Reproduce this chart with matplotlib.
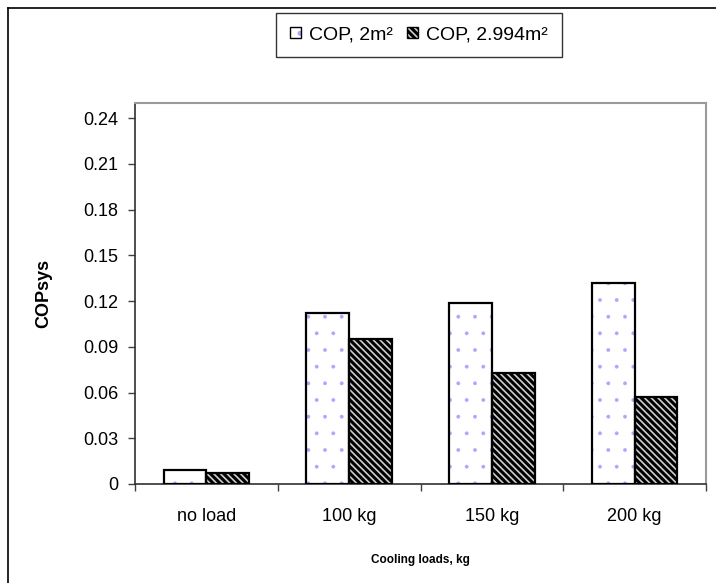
import matplotlib
matplotlib.use("Agg")
import matplotlib.pyplot as plt
from matplotlib.lines import Line2D
from matplotlib.patches import Patch
from matplotlib.legend_handler import HandlerTuple
import numpy as np

plt.rcParams['font.family'] = ['Liberation Sans', 'DejaVu Sans']

categories = ["no load", "100 kg", "150 kg", "200 kg"]
series_names = ["COP, 2m²", "COP, 2.994m²"]
cop_2m2 = [0.009, 0.112, 0.119, 0.132]
cop_2994m2 = [0.007, 0.095, 0.073, 0.057]
yticks = [0, 0.03, 0.06, 0.09, 0.12, 0.15, 0.18, 0.21, 0.24]
ytick_labels = ["0", "0.03", "0.06", "0.09", "0.12", "0.15", "0.18", "0.21", "0.24"]

W, H = 716, 583
fig = plt.figure(figsize=(W / 100, H / 100), dpi=100)
ax = fig.add_axes([135 / W, 1 - 484 / H, (706 - 135) / W, (484 - 103) / H])

x = np.arange(len(categories))
w = 0.3

DOT_C = '#a8a8ff'
STRIPE_C = '#cfcfcf'
STRIPES = '\\\\\\\\\\'

# Series 1: white with light-blue dots
plt.rcParams['hatch.linewidth'] = 0.3
ax.bar(x - w / 2, cop_2m2, w, color='white', edgecolor=DOT_C, hatch='.', linewidth=0, zorder=2)
h1a = Patch(facecolor='white', edgecolor=DOT_C, hatch='.', linewidth=0)
ax.bar(x - w / 2, cop_2m2, w, fill=False, edgecolor='black', linewidth=1.6, zorder=3)

# Series 2: black with light diagonal stripes
plt.rcParams['hatch.linewidth'] = 1.2
ax.bar(x + w / 2, cop_2994m2, w, color='black', linewidth=0, zorder=2)
ax.bar(x + w / 2, cop_2994m2, w, fill=False, edgecolor=STRIPE_C, hatch=STRIPES, linewidth=0, zorder=2.5)
ax.bar(x + w / 2, cop_2994m2, w, fill=False, edgecolor='black', linewidth=1.6, zorder=3)
h2b = Patch(fill=False, edgecolor=STRIPE_C, hatch=STRIPES, linewidth=0)

ax.set_xlim(-0.5, len(categories) - 0.5)
ax.set_ylim(0, 0.25)
ax.set_yticks(yticks)
ax.set_yticklabels(ytick_labels, fontsize=13)
ax.set_xticks(x)
ax.set_xticklabels(categories, fontsize=13)
ax.set_xticks(np.arange(-0.5, len(categories), 1.0), minor=True)
ax.tick_params(axis='x', which='major', length=0, pad=17)
ax.tick_params(axis='x', which='minor', length=5, width=1, direction='out', color='#404040')
ax.tick_params(axis='y', length=5, width=1, direction='out', pad=7, color='#404040')

for s in ['left', 'bottom']:
    ax.spines[s].set_color('#303030')
    ax.spines[s].set_linewidth(1.2)
for s in ['top', 'right']:
    ax.spines[s].set_color('#9a9a9a')
    ax.spines[s].set_linewidth(1.5)

ax.set_ylabel("COPsys", fontsize=13, fontweight='bold', labelpad=22)
ax.set_xlabel("Cooling loads, kg", fontsize=8.5, fontweight='bold', labelpad=21)

# legend
h1 = (h1a, Patch(fill=False, edgecolor='black', linewidth=1.0))
h2 = (Patch(facecolor='black', linewidth=0), h2b,
      Patch(fill=False, edgecolor='black', linewidth=1.0))
leg = fig.legend([h1, h2], series_names, loc='center', bbox_to_anchor=(419 / W, 1 - 35 / H),
                 ncol=2, fontsize=14, frameon=True, fancybox=False, edgecolor='black',
                 handlelength=0.55, handleheight=0.55, handletextpad=0.45, columnspacing=0.7,
                 borderpad=0.7, borderaxespad=0,
                 handler_map={tuple: HandlerTuple(ndivide=1)})
leg.get_frame().set_linewidth(1.0)

# outer chart frame
fig.add_artist(Line2D([8 / W, 8 / W], [0, 1 - 8 / H], transform=fig.transFigure, color='black', lw=1.2))
fig.add_artist(Line2D([8 / W, 1], [1 - 8 / H, 1 - 8 / H], transform=fig.transFigure, color='black', lw=1.2))

fig.savefig("out.png", dpi=100)
